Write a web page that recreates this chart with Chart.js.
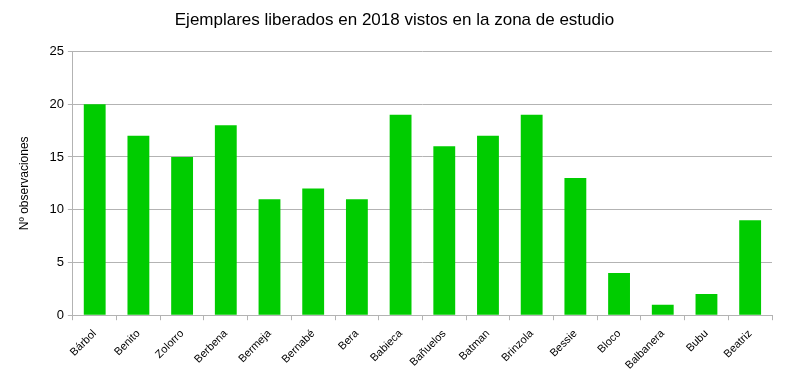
<!DOCTYPE html>
<html>
<head>
<meta charset="utf-8">
<script src="https://cdn.jsdelivr.net/npm/chart.js@4/dist/chart.umd.min.js"></script>
<style>
html,body{margin:0;padding:0;background:#fff;}
#wrap{width:786px;height:381px;}
</style>
</head>
<body>
<div id="wrap"><canvas id="c" width="786" height="381"></canvas></div>
<script>
const categories = ["Bárbol","Benito","Zolorro","Berbena","Bermeja","Bernabé","Bera","Babieca","Bañuelos","Batman","Brinzola","Bessie","Bloco","Balbanera","Bubu","Beatriz"];
const observations = [20,17,15,18,11,12,11,19,16,17,19,13,4,1,2,9];
const yTicks = [0,5,10,15,20,25];
const chartTitle = "Ejemplares liberados en 2018 vistos en la zona de estudio";
const yTitle = "Nº observaciones";

const bgPlugin = {
  id: 'bg',
  beforeDraw(chart){
    const ctx = chart.ctx;
    ctx.save();
    ctx.fillStyle = '#ffffff';
    ctx.fillRect(0,0,chart.width,chart.height);
    ctx.restore();
  }
};

new Chart(document.getElementById('c'), {
  type: 'bar',
  data: {
    labels: categories,
    datasets: [{
      data: observations,
      backgroundColor: '#00cc00',
      borderWidth: 0,
      categoryPercentage: 1.0,
      barPercentage: 0.5
    }]
  },
  plugins: [bgPlugin],
  options: {
    responsive: false,
    animation: false,
    devicePixelRatio: 1,
    layout: { padding: { left: 17, right: 14, top: 0, bottom: 2 } },
    plugins: {
      legend: { display: false },
      tooltip: { enabled: false },
      title: {
        display: true,
        text: chartTitle,
        color: '#000000',
        font: { family: 'Liberation Sans', size: 17, weight: 'normal' },
        padding: { top: 10, bottom: 21 }
      }
    },
    scales: {
      x: {
        offset: true,
        grid: { display: true, offset: true, drawOnChartArea: false, drawTicks: true, tickLength: 5, color: '#b3b3b3' },
        border: { display: true, color: '#b3b3b3', width: 1 },
        ticks: {
          color: '#000000',
          font: { family: 'Liberation Sans', size: 11 },
          minRotation: 45,
          maxRotation: 45,
          autoSkip: false,
          padding: 7
        }
      },
      y: {
        min: 0,
        max: 25,
        afterBuildTicks(axis){ axis.ticks = yTicks.map(v => ({ value: v })); },
        grid: { color: '#b3b3b3', drawTicks: true, tickLength: 5 },
        border: { display: true, color: '#b3b3b3', width: 1 },
        ticks: {
          color: '#000000',
          font: { family: 'Liberation Sans', size: 13 },
          padding: 4
        },
        title: {
          display: true,
          text: yTitle,
          color: '#000000',
          font: { family: 'Liberation Sans', size: 12 },
          padding: { top: 0, bottom: 14 }
        }
      }
    }
  }
});
</script>
</body>
</html>
